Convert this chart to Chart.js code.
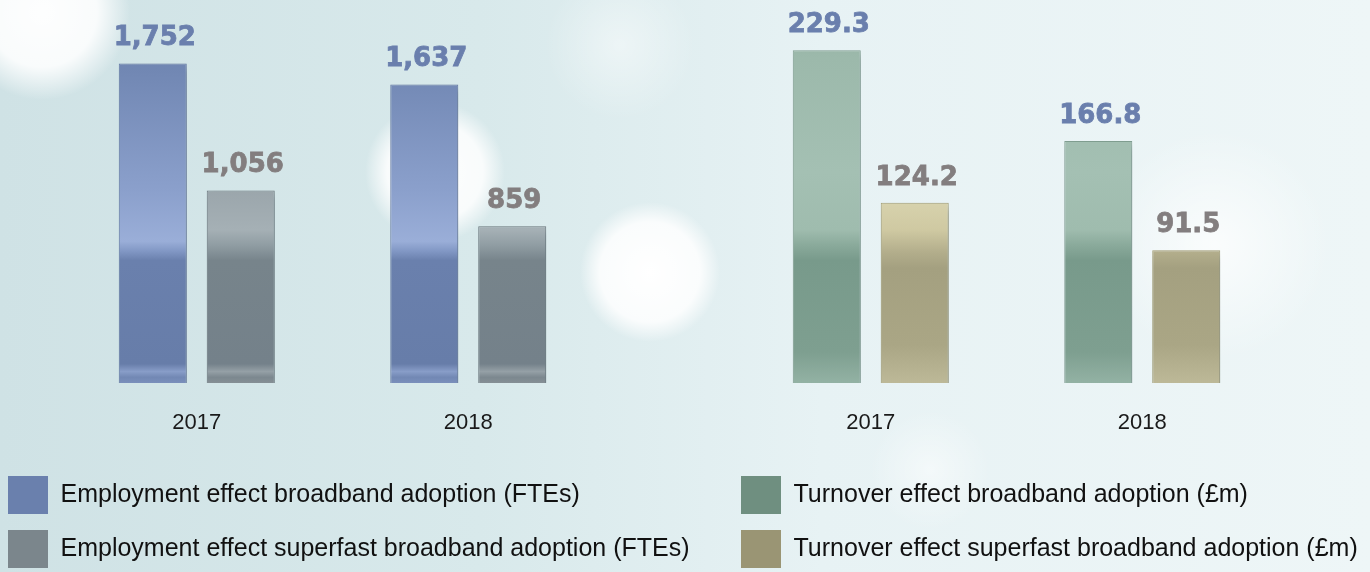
<!DOCTYPE html>
<html>
<head>
<meta charset="utf-8">
<script src="https://cdn.jsdelivr.net/npm/chart.js@4.4.1/dist/chart.umd.min.js"></script>
<style>
    html, body {
        margin: 0;
        padding: 0;
    }
    body {
        width: 1370px;
        height: 572px;
        overflow: hidden;
        position: relative;
        background:
            radial-gradient(circle at 42px 12px, rgba(255,255,255,0.97) 0, rgba(255,255,255,0.88) 55px, rgba(255,255,255,0) 88px),
            radial-gradient(circle at 435px 172px, rgba(255,255,255,0.95) 0, rgba(255,255,255,0.85) 48px, rgba(255,255,255,0) 70px),
            radial-gradient(circle at 650px 272px, rgba(255,255,255,1) 0, rgba(255,255,255,0.85) 50px, rgba(255,255,255,0) 70px),
            radial-gradient(circle at 620px 45px, rgba(255,255,255,0.45) 0, rgba(255,255,255,0) 75px),
            radial-gradient(circle at 1215px 245px, rgba(255,255,255,0.75) 0, rgba(255,255,255,0) 115px),
            radial-gradient(circle at 930px 470px, rgba(255,255,255,0.5) 0, rgba(255,255,255,0) 60px),
            linear-gradient(90deg, #cfe2e5 0%, #d8e9eb 35%, #e7f2f4 60%, #eef6f7 100%);
    }
    canvas {
        position: absolute;
        top: 0;
    }
    #fteChart { left: -8px; }
    #turnoverChart { left: 725px; }
</style>
</head>
<body>
<canvas id="fteChart" width="708" height="578"></canvas>
<canvas id="turnoverChart" width="645" height="578"></canvas>
<script>
(function () {
    "use strict";

    // Data
    const years = ["2017", "2018"];
    const fteBroadband = [1752, 1637];
    const fteSuperfast = [1056, 859];
    const turnoverBroadband = [229.3, 166.8];
    const turnoverSuperfast = [124.2, 91.5];

    const labelBlue = "#6a7fad";
    const labelGrey = "#837e7f";

    // Vertical gradient over the plot area, gives the glossy break
    function barFill(stops) {
        return function (context) {
            const chart = context.chart;
            const area = chart.chartArea;
            if (!area) {
                return stops[stops.length - 1][1];
            }
            const g = chart.ctx.createLinearGradient(0, area.top, 0, area.bottom);
            stops.forEach((s) => g.addColorStop(s[0], s[1]));
            return g;
        };
    }

    const blueFill = barFill([
        [0, "#6c81ad"], [0.18, "#7187b3"], [0.5, "#8ba0cc"], [0.63, "#9aaed8"],
        [0.655, "#8298c5"], [0.68, "#6a80ad"], [0.95, "#677da9"], [0.97, "#889dc8"],
        [0.985, "#7288b4"], [1, "#7a8fbb"],
    ]);
    const greyFill = barFill([
        [0, "#8a949a"], [0.45, "#96a1a7"], [0.6, "#a5b0b5"], [0.64, "#909da3"],
        [0.68, "#77848b"], [0.95, "#74818a"], [0.97, "#95a0a6"], [0.985, "#7c888f"],
        [1, "#858f95"],
    ]);
    const greenFill = barFill([
        [0, "#8eac9d"], [0.15, "#9cb9ab"], [0.45, "#a4c0b3"], [0.6, "#9fbcae"],
        [0.64, "#8aaa9b"], [0.68, "#789a8b"], [0.92, "#7e9f90"], [1, "#93b2a4"],
    ]);
    const tanFill = barFill([
        [0, "#d4cfa9"], [0.52, "#d8d3ae"], [0.6, "#cfc9a2"], [0.66, "#b2ad8b"],
        [0.7, "#a4a080"], [0.9, "#aaa685"], [1, "#bdb998"],
    ]);

    // Soft drop shadow behind the bars
    const shadowPlugin = {
        id: "barShadow",
        beforeDatasetDraw(chart) {
            const ctx = chart.ctx;
            ctx.save();
            ctx.shadowColor = "rgba(40, 60, 70, 0.28)";
            ctx.shadowBlur = 8;
            ctx.shadowOffsetX = 4;
            ctx.shadowOffsetY = 5;
        },
        afterDatasetDraw(chart) {
            chart.ctx.restore();
        },
    };

    // Value labels above bars
    const valuePlugin = {
        id: "valueLabels",
        afterDatasetsDraw(chart) {
            const ctx = chart.ctx;
            ctx.save();
            ctx.font = "bold 26px 'DejaVu Sans', Verdana, sans-serif";
            ctx.textAlign = "center";
            ctx.textBaseline = "alphabetic";
            chart.data.datasets.forEach((ds, i) => {
                const meta = chart.getDatasetMeta(i);
                ctx.fillStyle = ds.valueColor;
                ctx.strokeStyle = ds.valueColor;
                ctx.lineWidth = 0.8;
                meta.data.forEach((bar, j) => {
                    const text = ds.format(ds.data[j]);
                    ctx.fillText(text, bar.x + 2, bar.y - 18);
                    ctx.strokeText(text, bar.x + 2, bar.y - 18);
                });
            });
            ctx.restore();
        },
    };

    function legendLabels(chart) {
        return chart.data.datasets.map((ds, i) => ({
            text: ds.label,
            fillStyle: ds.legendColor,
            strokeStyle: "rgba(0,0,0,0)",
            lineWidth: 0,
            fontColor: "#111111",
            hidden: false,
            datasetIndex: i,
        }));
    }

    function makeChart(id, datasets, yMax, leftW, rightW) {
        const ctx = document.getElementById(id).getContext("2d");
        return new Chart(ctx, {
            type: "bar",
            data: { labels: years, datasets: datasets },
            options: {
                responsive: false,
                animation: false,
                layout: { padding: 0 },
                plugins: {
                    tooltip: { enabled: false },
                    legend: {
                        position: "bottom",
                        align: "start",
                        labels: {
                            boxWidth: 40,
                            boxHeight: 38,
                            padding: 16,
                            color: "#111111",
                            font: { family: "'Liberation Sans', Arial, sans-serif", size: 25 },
                            generateLabels: legendLabels,
                        },
                    },
                },
                scales: {
                    x: {
                        grid: { display: false, drawTicks: false },
                        border: { display: false },
                        ticks: {
                            padding: 27,
                            color: "#1a1a1a",
                            font: { family: "'Liberation Sans', Arial, sans-serif", size: 22 },
                        },
                        afterFit: (s) => { s.height = 77; },
                    },
                    y: {
                        min: 0,
                        max: yMax,
                        ticks: { display: false },
                        grid: { display: false, drawTicks: false },
                        border: { display: false },
                        afterFit: (s) => { s.width = leftW; },
                    },
                    yRight: {
                        axis: "y",
                        position: "right",
                        min: 0,
                        max: 1,
                        ticks: { display: false },
                        grid: { display: false, drawTicks: false },
                        border: { display: false },
                        afterFit: (s) => { s.width = rightW; },
                    },
                },
            },
            plugins: [shadowPlugin, valuePlugin],
        });
    }

    const thousands = (v) => v.toLocaleString("en-GB");
    const oneDecimal = (v) => v.toFixed(1);

    makeChart("fteChart", [
        {
            label: "Employment effect broadband adoption (FTEs)",
            data: fteBroadband,
            backgroundColor: blueFill,
            borderColor: "#6479a5",
            borderWidth: 1,
            categoryPercentage: 0.648,
            barPercentage: 0.773,
            legendColor: "#6a80ad",
            valueColor: labelBlue,
            format: thousands,
        },
        {
            label: "Employment effect superfast broadband adoption (FTEs)",
            data: fteSuperfast,
            backgroundColor: greyFill,
            borderColor: "#6b777d",
            borderWidth: 1,
            categoryPercentage: 0.648,
            barPercentage: 0.773,
            legendColor: "#7b868c",
            valueColor: labelGrey,
            format: thousands,
        },
    ], 2100, 69, 96);

    makeChart("turnoverChart", [
        {
            label: "Turnover effect broadband adoption (£m)",
            data: turnoverBroadband,
            backgroundColor: greenFill,
            borderColor: "#819f91",
            borderWidth: 1,
            categoryPercentage: 0.648,
            barPercentage: 0.773,
            legendColor: "#6f8f80",
            valueColor: labelBlue,
            format: oneDecimal,
        },
        {
            label: "Turnover effect superfast broadband adoption (£m)",
            data: turnoverSuperfast,
            backgroundColor: tanFill,
            borderColor: "#a39d74",
            borderWidth: 1,
            categoryPercentage: 0.648,
            barPercentage: 0.773,
            legendColor: "#9a9574",
            valueColor: labelGrey,
            format: oneDecimal,
        },
    ], 264, 10, 92);
})();
</script>
</body>
</html>
